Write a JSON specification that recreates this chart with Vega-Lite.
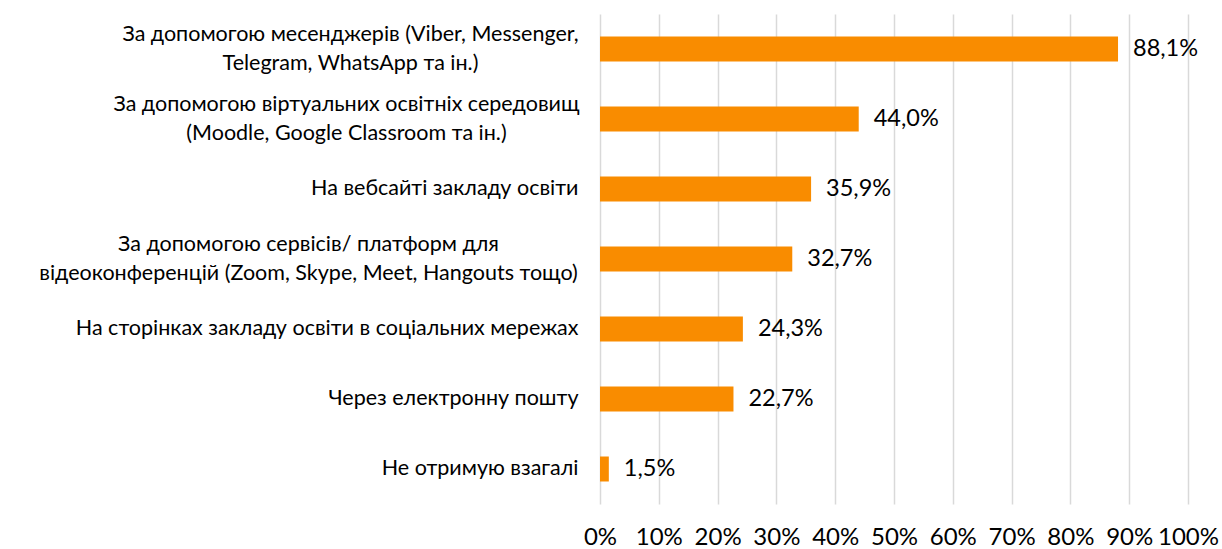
{
  "$schema": "https://vega.github.io/schema/vega-lite/v6.json",
  "width": 588,
  "height": 490,
  "autosize": "none",
  "padding": {"left": 600, "top": 14, "right": 34, "bottom": 45},
  "background": "white",
  "data": {
    "values": [
      {"cat": "За допомогою месенджерів (Viber, Messenger,|Telegram, WhatsApp та ін.)", "v": 88.1},
      {"cat": "За допомогою віртуальних освітніх середовищ|(Moodle, Google Classroom та ін.)", "v": 44.0},
      {"cat": "На вебсайті закладу освіти", "v": 35.9},
      {"cat": "За допомогою сервісів/ платформ для|відеоконференцій (Zoom, Skype, Meet, Hangouts тощо)", "v": 32.7},
      {"cat": "На сторінках закладу освіти в соціальних мережах", "v": 24.3},
      {"cat": "Через електронну пошту", "v": 22.7},
      {"cat": "Не отримую взагалі", "v": 1.5}
    ]
  },
  "transform": [
    {"calculate": "replace(format(datum.v, '.1f'), '.', ',') + '%'", "as": "lab"}
  ],
  "encoding": {
    "y": {
      "field": "cat",
      "type": "nominal",
      "sort": null,
      "scale": {"paddingInner": 0.643, "paddingOuter": 0.3215},
      "axis": {
        "title": null,
        "domain": false,
        "ticks": false,
        "labelExpr": "split(datum.value, '|')",
        "labelFont": "Lato",
        "labelFontSize": 21.5,
        "labelColor": "#000000",
        "labelLineHeight": 29,
        "labelLimit": 700,
        "labelBaseline": "middle",
        "labelAlign": {"condition": {"test": "indexof(datum.value, '|') >= 0", "value": "center"}, "value": "right"},
        "labelOffset": {"condition": {"test": "indexof(datum.value, '|') >= 0", "value": -14.5}, "value": 0},
        "labelPadding": {"condition": [
          {"test": "indexof(datum.value, 'месенджерів') >= 0", "value": 250},
          {"test": "indexof(datum.value, 'віртуальних') >= 0", "value": 254},
          {"test": "indexof(datum.value, 'сервісів') >= 0", "value": 292}
        ], "value": 22}
      }
    }
  },
  "layer": [
    {
      "mark": {"type": "bar", "color": "#F98C00"},
      "encoding": {
        "x": {
          "field": "v",
          "type": "quantitative",
          "scale": {"domain": [0, 100], "nice": false},
          "axis": {
            "title": null,
            "values": [0, 10, 20, 30, 40, 50, 60, 70, 80, 90, 100],
            "labelExpr": "datum.value + '%'",
            "domain": false,
            "ticks": false,
            "grid": true,
            "gridColor": "#D9D9D9",
            "gridWidth": 1.5,
            "labelFont": "Lato",
            "labelFontSize": 24,
            "labelColor": "#000000",
            "labelPadding": 21,
            "labelFlush": false
          }
        }
      }
    },
    {
      "mark": {"type": "text", "align": "left", "baseline": "middle", "dx": 15, "font": "Lato", "fontSize": 23.5, "color": "#000000"},
      "encoding": {
        "x": {"field": "v", "type": "quantitative"},
        "text": {"field": "lab"}
      }
    }
  ],
  "config": {"view": {"stroke": null}}
}
